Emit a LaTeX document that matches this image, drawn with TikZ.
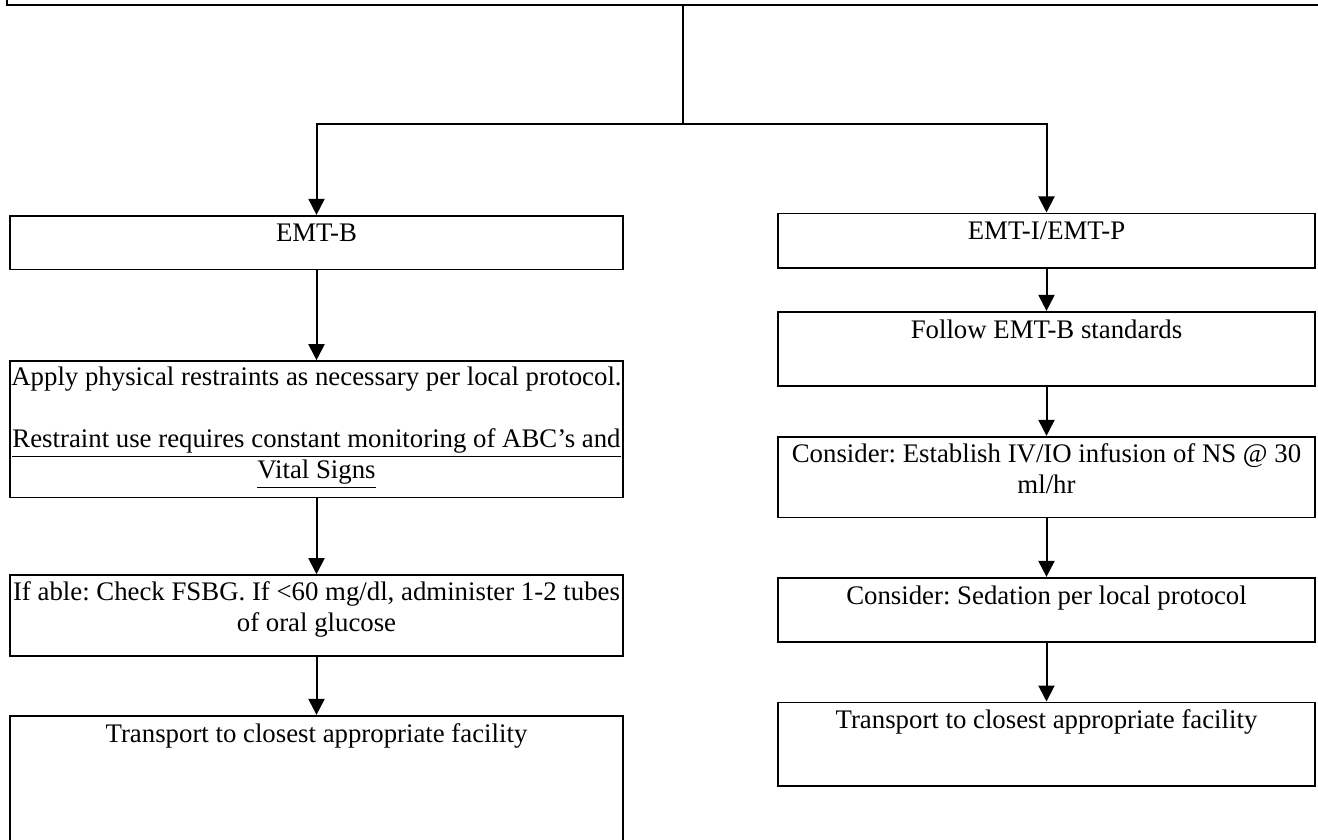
\documentclass[tikz,border=0pt]{standalone}
\usepackage{fontspec}
\setmainfont{Liberation Serif}
\usetikzlibrary{arrows.meta,fit,calc}

\begin{document}
\frenchspacing
\begin{tikzpicture}[x=0.5pt,y=-0.5pt,
  box/.style={draw, line width=0.8pt, inner sep=0pt},
  txt/.style={anchor=north, inner sep=0pt, align=center,
              font=\fontsize{13.4}{15.5}\selectfont},
  link/.style={draw, line width=1pt},
  arr/.style={link, -{Triangle[length=8pt,width=8pt]}}
]
\useasboundingbox (0,0) rectangle (1318,840);
\clip (0,0) rectangle (1318,840);

% header box (runs off the top of the page)
\node[box, line width=1pt, fit={(7,-60) (1340,5)}] (top) {};

% left branch
\node[box, fit={(10,215.7) (623,269.5)}] (emtb) {};
\node[box, fit={(10,361) (623,497.5)}] (apply) {};
\node[box, fit={(10,575) (623,656)}] (ifable) {};
\node[box, fit={(10,715.7) (623,880)}] (transL) {};

% right branch
\node[box, fit={(778,213.3) (1315,267.7)}] (emti) {};
\node[box, fit={(778,311.7) (1315,385.7)}] (follow) {};
\node[box, fit={(778,436.7) (1315,517.3)}] (iv) {};
\node[box, fit={(778,577.7) (1315,641.7)}] (sed) {};
\node[box, fit={(778,702.3) (1315,785.7)}] (transR) {};

% box texts
\node[txt] (emtbT) at ($(emtb.north)+(0,4.5)$) {\strut EMT-B};
\node[txt] (applyT) at ($(apply.north)+(0,3.5)$) {\strut Apply physical restraints as necessary per local protocol.\\[15.35pt]
  \underline{Restraint use requires constant monitoring of ABC’s and}\\
  \underline{Vital Signs}};
\node[txt] (ifableT) at ($(ifable.north)+(0,4.5)$) {\strut If able: Check FSBG. If <60 mg/dl, administer 1-2 tubes\\ of oral glucose};
\node[txt] (transLT) at ($(transL.north)+(0,5.3)$) {\strut Transport to closest appropriate facility};

\node[txt] (emtiT) at ($(emti.north)+(0,5)$) {\strut EMT-I/EMT-P};
\node[txt] (followT) at ($(follow.north)+(0,5)$) {\strut Follow EMT-B standards};
\node[txt] (ivT) at ($(iv.north)+(0,4)$) {\strut Consider: Establish IV/IO infusion of NS @ 30\\ ml/hr};
\node[txt] (sedT) at ($(sed.north)+(0,5)$) {\strut Consider: Sedation per local protocol};
\node[txt] (transRT) at ($(transR.north)+(0,5)$) {\strut Transport to closest appropriate facility};

% split from the header into the two branches
\coordinate (split) at (682.7,124);
\draw[link] (top.south -| split) -- (split);
\draw[arr] (split) -| (emtb);
\draw[arr] (split) -| (emti);

% left chain
\draw[arr] (emtb) -- (apply);
\draw[arr] (apply) -- (ifable);
\draw[arr] (ifable) -- (transL);

% right chain
\draw[arr] (emti) -- (follow);
\draw[arr] (follow) -- (iv);
\draw[arr] (iv) -- (sed);
\draw[arr] (sed) -- (transR);
\end{tikzpicture}
\end{document}
